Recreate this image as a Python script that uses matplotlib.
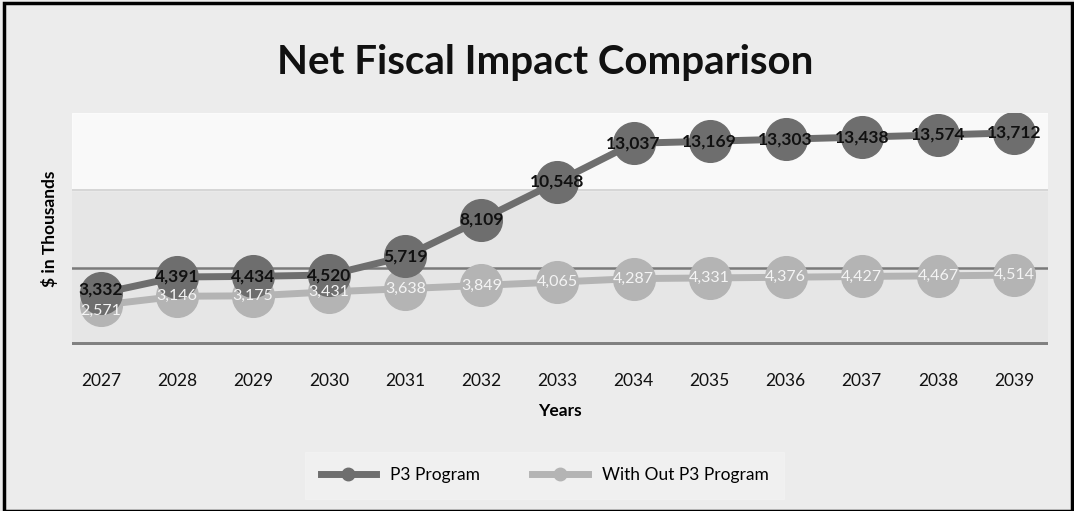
import matplotlib.pyplot as plt
from matplotlib.patches import Rectangle

plt.rcParams['font.family'] = ['Lato', 'DejaVu Sans']

years = [2027, 2028, 2029, 2030, 2031, 2032, 2033, 2034, 2035, 2036, 2037, 2038, 2039]
p3_program = [3332, 4391, 4434, 4520, 5719, 8109, 10548, 13037, 13169, 13303, 13438, 13574, 13712]
without_p3 = [2571, 3146, 3175, 3431, 3638, 3849, 4065, 4287, 4331, 4376, 4427, 4467, 4514]

dark = '#6e6e6e'
light = '#b4b4b4'

fig = plt.figure(figsize=(10.74, 5.11), dpi=100, facecolor='#ececec')
ax = fig.add_axes([0.067, 0.325, 0.909, 0.454])
ax.set_facecolor('#e6e6e6')
ax.axhspan(10000, 15000, color='white', alpha=0.8, zorder=0)

# gridlines
ax.axhline(10000, color='#cfcfcf', lw=1.2, zorder=1)
ax.axhline(5000, color='#7a7a7a', lw=1.8, zorder=1)
ax.axhline(0, color='#808080', lw=5, zorder=1)

ax.plot(years, without_p3, color=light, lw=5, marker='o', ms=30,
        markerfacecolor=light, markeredgecolor=light, zorder=2, label='With Out P3 Program')
ax.plot(years, p3_program, color=dark, lw=5, marker='o', ms=30,
        markerfacecolor=dark, markeredgecolor=dark, zorder=3, label='P3 Program')

# first pair of labels overlaps, nudge them apart a little
for i, (x, v) in enumerate(zip(years, without_p3)):
    dy = -4 if i == 0 else 0
    ax.annotate(f'{v:,}', (x, v), xytext=(0, dy), textcoords='offset points',
                ha='center', va='center', fontsize=11.5, color='#f4f4f4', zorder=4)
for i, (x, v) in enumerate(zip(years, p3_program)):
    dy = 3 if i == 0 else 0
    ax.annotate(f'{v:,}', (x, v), xytext=(0, dy), textcoords='offset points',
                ha='center', va='center', fontsize=12.5, color='#111111',
                fontweight='bold', zorder=5)

ax.set_xlim(2026.62, 2039.45)
ax.set_ylim(0, 15000)
ax.set_xticks(years)
ax.set_xticklabels([str(y) for y in years], fontsize=12.5, color='#111111')
ax.set_yticks([])
ax.tick_params(axis='x', length=0, pad=20)
for s in ax.spines.values():
    s.set_visible(False)

ax.set_xlabel('Years', fontsize=12.5, fontweight='bold', labelpad=10)
ax.set_ylabel('$ in Thousands', fontsize=12.5, fontweight='bold', labelpad=10)

fig.text(0.508, 0.878, 'Net Fiscal Impact Comparison', ha='center', va='center',
         fontsize=29, fontweight='bold', color='#111111')

handles, labels = ax.get_legend_handles_labels()
leg = fig.legend(handles[::-1], labels[::-1], loc='center', bbox_to_anchor=(0.507, 0.07),
                 ncol=2, fontsize=12.5, frameon=True, facecolor='#f2f2f2',
                 edgecolor='#f2f2f2', fancybox=False, handlelength=3.2,
                 columnspacing=3.0, borderpad=0.9, borderaxespad=0, markerscale=0.3)

fig.patches.append(Rectangle((0.004, 0.0), 0.994, 0.995, transform=fig.transFigure,
                             fill=False, edgecolor='black', lw=2.5))

fig.savefig('out.png', dpi=100, facecolor=fig.get_facecolor())
